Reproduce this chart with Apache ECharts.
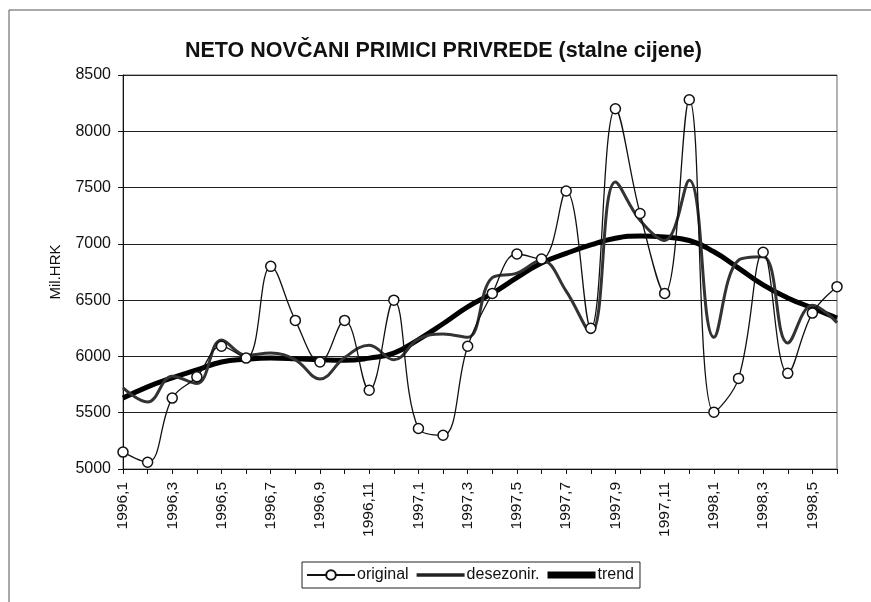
<!DOCTYPE html>
<html>
<head>
<meta charset="utf-8">
<script src="https://cdn.jsdelivr.net/npm/echarts@6/dist/echarts.min.js"></script>
<style>
  html, body { margin: 0; padding: 0; background: #fff; }
  #container { width: 871px; height: 602px; }
</style>
</head>
<body>
<div id="container"></div>
<script>
// Podaci (mjeseci 1996,1 - 1998,6)
var mjeseci = [
    '1996,1', '1996,2', '1996,3', '1996,4', '1996,5', '1996,6', '1996,7', '1996,8', '1996,9', '1996,10', '1996,11', '1996,12',
    '1997,1', '1997,2', '1997,3', '1997,4', '1997,5', '1997,6', '1997,7', '1997,8', '1997,9', '1997,10', '1997,11', '1997,12',
    '1998,1', '1998,2', '1998,3', '1998,4', '1998,5', '1998,6'
];
var original = [
    5150, 5060, 5630, 5820, 6090, 5985, 6800, 6320, 5950, 6320, 5700, 6500,
    5360, 5300, 6090, 6560, 6910, 6865, 7470, 6250, 8200, 7270, 6560, 8280,
    5505, 5805, 6925, 5850, 6385, 6620
];
var desezonir = [
    5720, 5595, 5825, 5760, 6145, 6010, 6030, 5970, 5800, 5990, 6100, 5970,
    6155, 6200, 6170, 6700, 6740, 6855, 6580, 6210, 7550, 7210, 7030, 7565,
    6170, 6855, 6885, 6120, 6455, 6300
];
var trend = [
    5630, 5730, 5810, 5880, 5950, 5975, 5985, 5980, 5970, 5965, 5985, 6030,
    6150, 6290, 6440, 6560, 6700, 6830, 6915, 6990, 7050, 7070, 7060, 7030,
    6930, 6785, 6635, 6520, 6430, 6340
];

var dom = document.getElementById('container');
var myChart = echarts.init(dom, null, { renderer: 'canvas' });

var option = {
    backgroundColor: '#fff',
    animation: false,
    textStyle: { fontFamily: 'Liberation Sans, Arial, sans-serif', color: '#111' },
    title: {
        text: 'NETO NOVČANI PRIMICI PRIVREDE (stalne cijene)',
        left: 180,
        top: 35,
        textStyle: { fontSize: 21.5, fontWeight: 'bold', color: '#111', fontFamily: 'Liberation Sans, Arial, sans-serif' }
    },
    graphic: [
        { type: 'line', shape: { x1: 9, y1: 10, x2: 871, y2: 10 }, style: { stroke: '#555', lineWidth: 1 } },
        { type: 'line', shape: { x1: 9, y1: 10, x2: 9, y2: 602 }, style: { stroke: '#555', lineWidth: 1 } }
    ],
    legend: {
        bottom: 14,
        left: 302,
        data: [
            { name: 'original' },
            { name: 'desezonir.', icon: 'path://M0,0H40V3H0Z' },
            { name: 'trend', icon: 'path://M0,0H40V6H0Z' }
        ],
        itemWidth: 48,
        itemHeight: 12,
        itemGap: 8,
        borderColor: '#222',
        borderWidth: 1,
        borderRadius: 0,
        padding: [5, 6, 5, 4],
        textStyle: { fontSize: 16, color: '#111', padding: [0, 0, 0, -3] }
    },
    grid: {
        left: 123,
        right: 34,
        top: 75,
        bottom: 133,
        show: true,
        borderColor: '#666',
        borderWidth: 1
    },
    xAxis: {
        type: 'category',
        data: mjeseci,
        boundaryGap: false,
        axisLine: { lineStyle: { color: '#111', width: 1 } },
        axisTick: { show: true, interval: 0, length: 5, lineStyle: { color: '#111' } },
        axisLabel: { interval: 1, rotate: 90, fontSize: 15.5, color: '#111', margin: 13 },
        splitLine: { show: false }
    },
    yAxis: {
        type: 'value',
        min: 5000,
        max: 8500,
        interval: 500,
        name: 'Mil.HRK',
        nameLocation: 'middle',
        nameGap: 60,
        nameRotate: 90,
        nameTextStyle: { fontSize: 15, color: '#111' },
        axisLine: { show: true, lineStyle: { color: '#111', width: 1 } },
        axisTick: { show: true, length: 5, lineStyle: { color: '#111' } },
        axisLabel: {
            fontSize: 16,
            color: '#111',
            margin: 12,
            formatter: function(v) { return String(v); }
        },
        splitLine: { show: true, lineStyle: { color: '#222', width: 1 } }
    },
    series: [
        {
            name: 'original',
            type: 'line',
            data: original,
            smooth: 0.4,
            symbol: 'circle',
            symbolSize: 10,
            z: 4,
            lineStyle: { color: '#111', width: 1.3 },
            itemStyle: { color: '#fff', borderColor: '#111', borderWidth: 1.5 }
        },
        {
            name: 'desezonir.',
            type: 'line',
            data: desezonir,
            smooth: 0.4,
            symbol: 'none',
            z: 3,
            lineStyle: { color: '#333', width: 3 },
            itemStyle: { color: '#222' }
        },
        {
            name: 'trend',
            type: 'line',
            data: trend,
            smooth: 0.5,
            symbol: 'none',
            z: 2,
            lineStyle: { color: '#000', width: 5 },
            itemStyle: { color: '#000' }
        }
    ]
};

myChart.setOption(option);

window.addEventListener('resize', function() {
    myChart.resize();
});
</script>
</body>
</html>
